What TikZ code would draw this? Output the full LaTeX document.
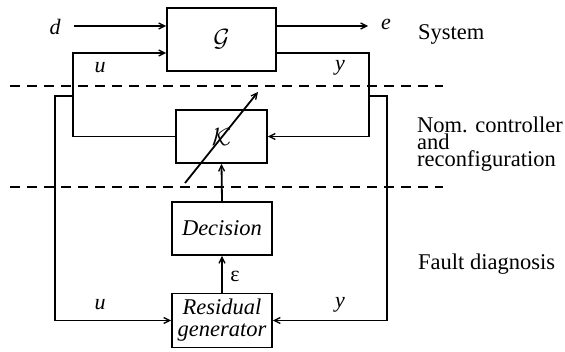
\documentclass[tikz,border=0pt]{standalone}
\usepackage{fontspec}
\setmainfont{Liberation Serif}
\usetikzlibrary{arrows.meta}
\begin{document}
\begin{tikzpicture}[x=1pt,y=-1pt,
  ln/.style={line width=1.8pt},
  blk/.style={draw,line width=1.8pt,inner sep=0pt,align=center},
  arr/.style={ln,-{Straight Barb[length=6pt,width=6pt,line width=1.3pt]}},
  dsh/.style={line width=1.8pt,dash pattern=on 10pt off 7pt},
  lbl/.style={font=\fontsize{22}{22}\selectfont\itshape,inner sep=0pt},
  side/.style={font=\fontsize{22.5}{15}\selectfont,anchor=west,inner sep=0pt,align=left}]
\useasboundingbox (0,0) rectangle (565,351);
% blocks
\node[blk,minimum width=109pt,minimum height=63pt] (G) at (221.5,39.5) {\fontsize{27}{27}\selectfont$\mathcal{G}$};
\node[blk,minimum width=91pt,minimum height=53pt] (K) at (221.5,136.5) {\fontsize{27}{27}\selectfont$\mathcal{K}$};
\node[blk,minimum width=100pt,minimum height=53pt,font=\fontsize{22.5}{24}\selectfont\itshape] (D) at (222,228.5) {Decision};
\node[blk,minimum width=100pt,minimum height=54pt,font=\fontsize{22.5}{22}\selectfont\itshape] (R) at (222,320.5) {Residual\\generator};
% coordinates
\coordinate (dS) at (74,26);
\coordinate (uc) at (73,53);
\coordinate (yc) at (369,53);
\coordinate (eE) at (368,26);
\coordinate (lt) at (73,96);
\coordinate (lo) at (55,96);
\coordinate (rt) at (369,96);
\coordinate (ro) at (387,96);
\coordinate (dg1) at (185,183);
\coordinate (dg2) at (258,92);
\coordinate (ds1a) at (10,86);
\coordinate (ds1b) at (443,86);
\coordinate (ds2a) at (10,187);
\coordinate (ds2b) at (443,187);
% connectors
\draw[arr] (dS) -- (dS -| G.west);
\draw[arr] (dS -| G.east) -- (eE);
\draw[arr] (K.west) -| (uc) -- (uc -| G.west);
\draw[arr] (yc -| G.east) -- (yc) |- (K.east);
\draw[arr] (lt) -- (lo) |- (R.west);
\draw[arr] (rt) -- (ro) |- (R.east);
\draw[arr] (D.north) -- (K.south);
\draw[arr] (R.north) -- (D.south);
\draw[arr] (dg1) -- (dg2);
\draw[dsh] (ds1a) -- (ds1b);
\draw[dsh] (ds2a) -- (ds2b);
% labels
\node[lbl] (ld) at (55,27) {d};
\node[lbl] (le) at (386,24) {e};
\node[lbl] (lu1) at (100,68) {u};
\node[lbl] (ly1) at (340,68) {y};
\node[lbl] (lu2) at (100,305) {u};
\node[lbl] (ly2) at (340,305) {y};
\node[font=\fontsize{22}{22}\selectfont,inner sep=0pt] (leps) at (235,276) {ε};
\node[side] (sys) at (418,34) {System};
\node[side] (nom) at (417,144) {Nom. controller\\and\\reconfiguration};
\node[side] (fd) at (418,264) {Fault diagnosis};
\end{tikzpicture}
\end{document}
